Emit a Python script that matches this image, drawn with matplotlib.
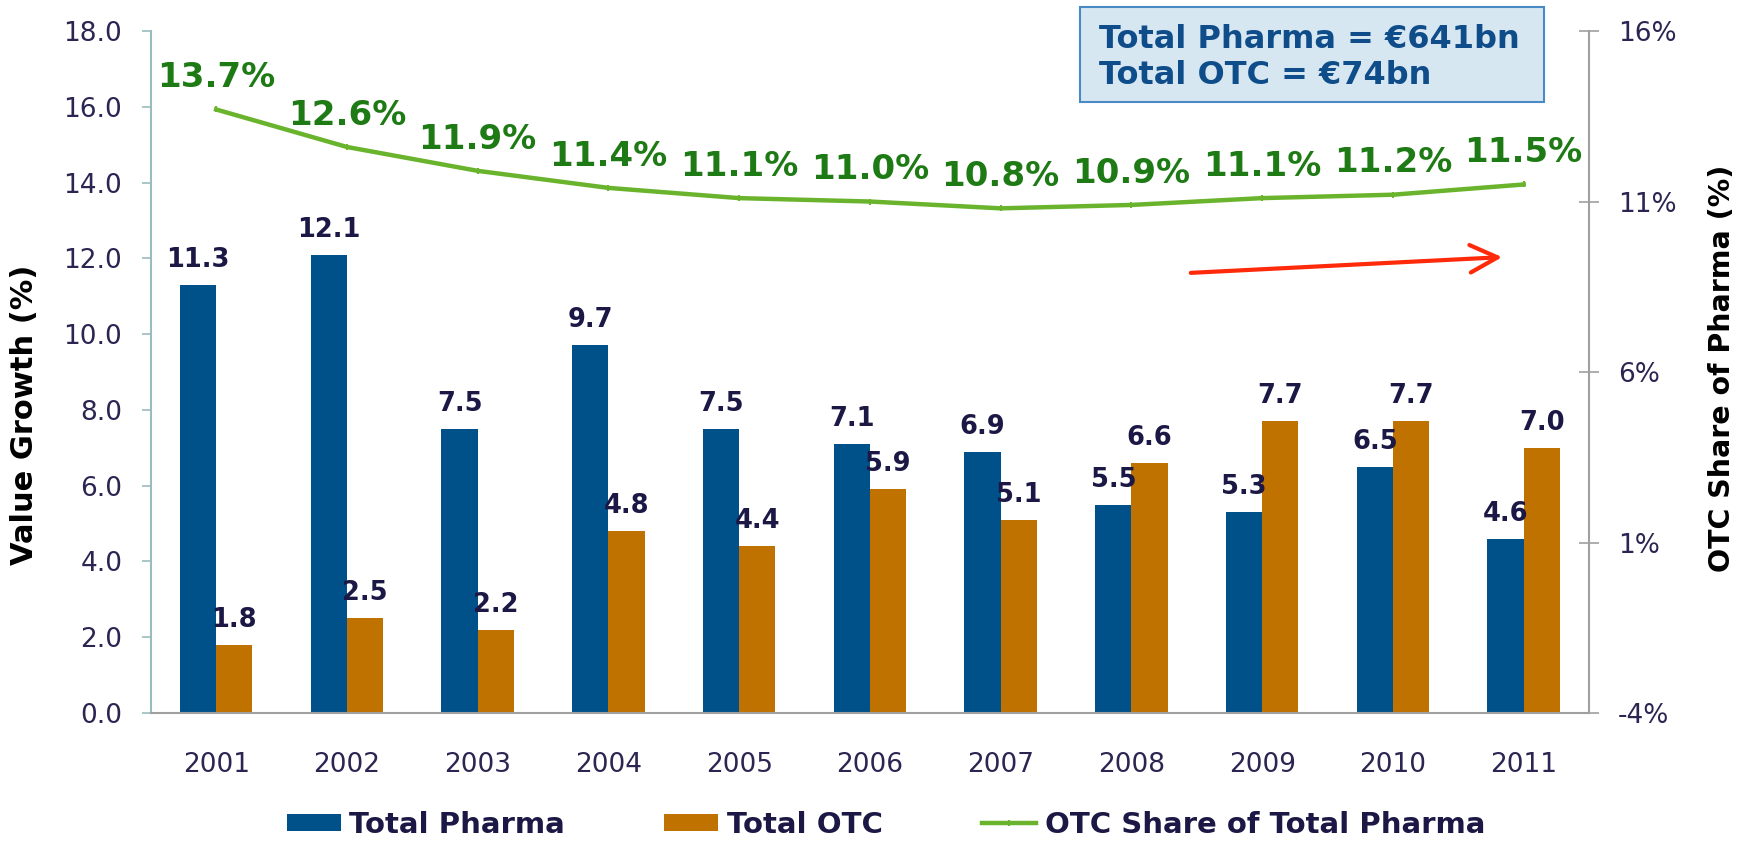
import matplotlib
matplotlib.use('Agg')
import matplotlib.pyplot as plt
import numpy as np
from matplotlib.patches import Rectangle

years = ['2001', '2002', '2003', '2004', '2005', '2006', '2007', '2008', '2009', '2010', '2011']
pharma = [11.3, 12.1, 7.5, 9.7, 7.5, 7.1, 6.9, 5.5, 5.3, 6.5, 4.6]
otc = [1.8, 2.5, 2.2, 4.8, 4.4, 5.9, 5.1, 6.6, 7.7, 7.7, 7.0]
otc_share = [13.7, 12.6, 11.9, 11.4, 11.1, 11.0, 10.8, 10.9, 11.1, 11.2, 11.5]

blue = '#00518a'
orange = '#bf7200'
green = '#6ab42d'
dark_green = '#1e7a14'
navy = '#1c1845'
tick_col = '#2b2552'

fig = plt.figure(figsize=(17.59, 8.41), dpi=100)
ax = fig.add_axes([0.0857, 0.1522, 0.8177, 0.8109])
ax2 = ax.twinx()

x = np.arange(len(years))
w = 0.277
b1 = ax.bar(x - w / 2, pharma, w, color=blue, label='Total Pharma', zorder=2)
b2 = ax.bar(x + w / 2, otc, w, color=orange, label='Total OTC', zorder=2)

for i in range(len(years)):
    ax.annotate('%.1f' % pharma[i], (x[i] - w / 2, pharma[i]), xytext=(0, 13),
                textcoords='offset points', ha='center', va='baseline',
                fontsize=18.5, fontweight='heavy', color=navy)
    ax.annotate('%.1f' % otc[i], (x[i] + w / 2, otc[i]), xytext=(0, 13),
                textcoords='offset points', ha='center', va='baseline',
                fontsize=18.5, fontweight='heavy', color=navy)

ax.set_xlim(-0.5, len(years) - 0.5)
ax.set_ylim(0, 18)
ax.set_yticks(np.arange(0, 18.1, 2))
ax.set_yticklabels(['%.1f' % v for v in np.arange(0, 18.1, 2)])
ax.set_xticks(x)
ax.set_xticklabels(years)
ax.tick_params(axis='y', direction='out', length=6.5, width=1.2, color='#9bbcbc',
               pad=14, labelsize=19, labelcolor=tick_col)
ax.tick_params(axis='x', length=0, pad=28, labelsize=19, labelcolor=tick_col)
ax.spines['top'].set_visible(False)
ax.spines['right'].set_visible(False)
ax.spines['left'].set_color('#9bbcbc')
ax.spines['left'].set_linewidth(1.5)
ax.spines['bottom'].set_color('#a0a0a0')
ax.spines['bottom'].set_linewidth(1.5)

ln, = ax2.plot(x, otc_share, color=green, lw=3.2, marker='|', ms=4, mew=1.5,
               label='OTC Share of Total Pharma', zorder=3)
for i in range(len(years)):
    ax2.annotate('%.1f%%' % otc_share[i], (x[i], otc_share[i]), xytext=(0, 16),
                 textcoords='offset points', ha='center', va='baseline',
                 fontsize=24.5, fontweight='bold', color=dark_green)
ax2.set_ylim(-4, 16)
ax2.set_yticks([-4, 1, 6, 11, 16])
ax2.set_yticklabels(['%d%%' % v for v in [-4, 1, 6, 11, 16]])
ax2.tick_params(axis='y', direction='inout', length=13.7, width=1.2, color='#a0a0a0',
                pad=14, labelsize=19, labelcolor=tick_col)
for s in ['top', 'left', 'bottom']:
    ax2.spines[s].set_visible(False)
ax2.spines['right'].set_color('#a0a0a0')
ax2.spines['right'].set_linewidth(1.5)

fig.text(0.0142, 1 - 415 / 841, 'Value Growth (%)', rotation=90, ha='center', va='center',
         fontsize=22, fontweight='bold', color='black')
fig.text(0.979, 1 - 368 / 841, 'OTC Share of Pharma (%)', rotation=90, ha='center', va='center',
         fontsize=20.5, fontweight='bold', color='black')

# info box
fig.add_artist(Rectangle((0.614, 0.8787), 0.264, 0.113, transform=fig.transFigure,
                         facecolor='#d7e7f2', edgecolor='#4a8ac4', lw=1.5))
fig.text(0.6248, 0.9316, 'Total Pharma = €641bn\nTotal OTC = €74bn', ha='left', va='center',
         fontsize=23, fontweight='bold', color='#0f4d8a', linespacing=1.2)

# red trend arrow
fig.add_artist(matplotlib.patches.FancyArrowPatch(
    (1188 / 1759, 1 - 273 / 841), (1505 / 1759, 1 - 257 / 841), transform=fig.transFigure,
    arrowstyle='->,head_length=0.9,head_width=0.45', mutation_scale=22,
    color='#ff2a0a', lw=3))

fig.legend([b1, b2, ln], ['Total Pharma', 'Total OTC', 'OTC Share of Total Pharma'],
           loc='center', bbox_to_anchor=(0.5037, 1 - 825 / 841), ncol=3, frameon=False,
           prop={'size': 21, 'weight': 'bold'}, labelcolor=navy,
           handlelength=1.85, handleheight=0.55, handletextpad=0.3, columnspacing=3.4)

fig.savefig('out.png', dpi=100)
